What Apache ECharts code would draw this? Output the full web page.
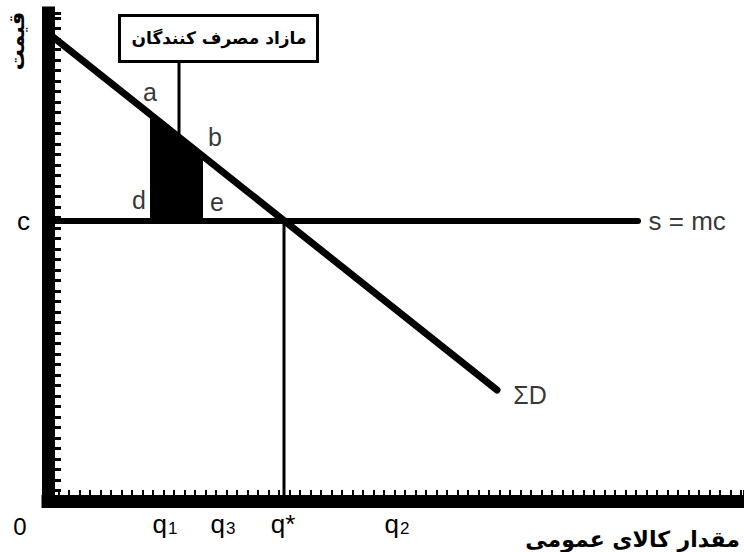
<!DOCTYPE html>
<html>
<head>
<meta charset="utf-8">
<script src="https://cdn.jsdelivr.net/npm/echarts@6/dist/echarts.min.js"></script>
<style>
  html, body { margin: 0; padding: 0; background: #fff; }
  #chart { width: 744px; height: 552px; }
</style>
</head>
<body>
<div id="chart"></div>
<script>
// diagram values, in axis units (1 unit ~ 1 px)
const demandX = [0, 449]
const demandY = [468, 111]
const priceC = 280
const supplyEndX = 590
const q1 = 102
const q3 = 155
const qStar = 236
const qLabelValues = [117, 175, 235, 349]
const qLabelNames = ['q1', 'q3', 'q*', 'q2']
const calloutX = 131
const calloutTop = 438
const pointNames = ['a', 'b', 'd', 'e', 'ΣD']
const pointX = [102, 167, 91, 169, 482]
const pointY = [409, 364, 301, 299, 106]
const supplyName = 's = mc'

const LATIN = '"Liberation Sans", Arial, sans-serif'
const PERSIAN = '"DejaVu Sans", sans-serif'

function demandAt(x) {
  return demandY[0] + (demandY[1] - demandY[0]) * (x - demandX[0]) / (demandX[1] - demandX[0])
}

function lineSeries(points, width) {
  return {
    type: 'line',
    data: points,
    symbol: 'none',
    silent: true,
    z: 3,
    lineStyle: { color: '#000', width: width, cap: 'round' }
  }
}

const myChart = echarts.init(document.getElementById('chart'), null, { renderer: 'svg' })

const option = {
  animation: false,
  backgroundColor: '#fff',
  grid: { left: 48, right: 0, top: 13, bottom: 51 },
  xAxis: {
    type: 'value',
    min: 0,
    max: 696,
    interval: 10.5,
    splitLine: { show: false },
    axisLine: { lineStyle: { color: '#000', width: 13, cap: 'square' } },
    axisTick: { inside: true, length: 11, lineStyle: { color: '#000', width: 2 } },
    axisLabel: {
      customValues: qLabelValues,
      margin: 10,
      formatter: function (v) {
        const name = qLabelNames[qLabelValues.indexOf(v)] || ''
        if (name === 'q*') return '{q|q*}'
        return '{q|q}{s|' + name.slice(1) + '}'
      },
      rich: {
        q: { fontSize: 26, fontFamily: LATIN, color: '#000' },
        s: { fontSize: 17, fontFamily: LATIN, color: '#000', verticalAlign: 'bottom', padding: [0, 0, 0, 1] }
      }
    }
  },
  yAxis: {
    type: 'value',
    min: 0,
    max: 488,
    interval: 10.5,
    splitLine: { show: false },
    axisLine: { lineStyle: { color: '#000', width: 13, cap: 'square' } },
    axisTick: { inside: true, length: 13, lineStyle: { color: '#000', width: 3 } },
    axisLabel: {
      customValues: [priceC],
      margin: 18,
      formatter: function () { return 'c' },
      fontSize: 26,
      fontFamily: LATIN,
      color: '#000'
    }
  },
  series: [
    {
      // shaded strip between q1 and q3 under demand
      type: 'custom',
      silent: true,
      z: 2,
      data: [[q1, q3]],
      renderItem: function (params, api) {
        const a = api.value(0)
        const b = api.value(1)
        const pts = [
          api.coord([a, priceC]),
          api.coord([a, demandAt(a)]),
          api.coord([b, demandAt(b)]),
          api.coord([b, priceC])
        ]
        return { type: 'polygon', shape: { points: pts }, style: { fill: '#000' } }
      }
    },
    lineSeries([[demandX[0], demandY[0]], [demandX[1], demandY[1]]], 7),
    lineSeries([[0, priceC], [supplyEndX, priceC]], 6),
    lineSeries([[qStar, priceC], [qStar, 0]], 3),
    lineSeries([[calloutX, calloutTop], [calloutX, demandAt(calloutX)]], 3),
    {
      type: 'scatter',
      silent: true,
      z: 4,
      symbolSize: 1,
      itemStyle: { color: 'rgba(0,0,0,0)' },
      data: pointNames.map(function (n, i) { return { name: n, value: [pointX[i], pointY[i]] } }),
      label: {
        show: true,
        position: 'inside',
        formatter: '{b}',
        fontSize: 25,
        fontFamily: LATIN,
        color: '#000'
      }
    },
    {
      type: 'scatter',
      silent: true,
      z: 4,
      symbolSize: 1,
      itemStyle: { color: 'rgba(0,0,0,0)' },
      data: [{ name: supplyName, value: [supplyEndX + 10, priceC] }],
      label: {
        show: true,
        position: 'right',
        distance: 0,
        formatter: '{b}',
        fontSize: 26,
        fontFamily: LATIN,
        color: '#000'
      }
    }
  ],
  graphic: [
    {
      type: 'rect',
      z: 10,
      shape: { x: 119.5, y: 15.5, width: 198, height: 46 },
      style: { fill: '#fff', stroke: '#000', lineWidth: 3 }
    },
    {
      type: 'text',
      z: 11,
      x: 219,
      y: 38,
      style: {
        text: 'مازاد مصرف کنندگان',
        font: 'bold 17px ' + PERSIAN,
        fill: '#000',
        align: 'center',
        verticalAlign: 'middle'
      }
    },
    {
      type: 'text',
      z: 11,
      x: 17,
      y: 41,
      rotation: Math.PI / 2,
      style: {
        text: 'قیمت',
        font: 'bold 21px ' + PERSIAN,
        fill: '#000',
        align: 'center',
        verticalAlign: 'middle'
      }
    },
    {
      type: 'text',
      z: 11,
      x: 740,
      y: 539,
      style: {
        text: 'مقدار کالای عمومی',
        font: 'bold 22px ' + PERSIAN,
        fill: '#000',
        align: 'right',
        verticalAlign: 'middle'
      }
    },
    {
      type: 'text',
      z: 11,
      x: 20,
      y: 526,
      style: {
        text: '0',
        font: '24px ' + LATIN,
        fill: '#000',
        align: 'center',
        verticalAlign: 'middle'
      }
    }
  ]
}

myChart.setOption(option)
</script>
</body>
</html>
